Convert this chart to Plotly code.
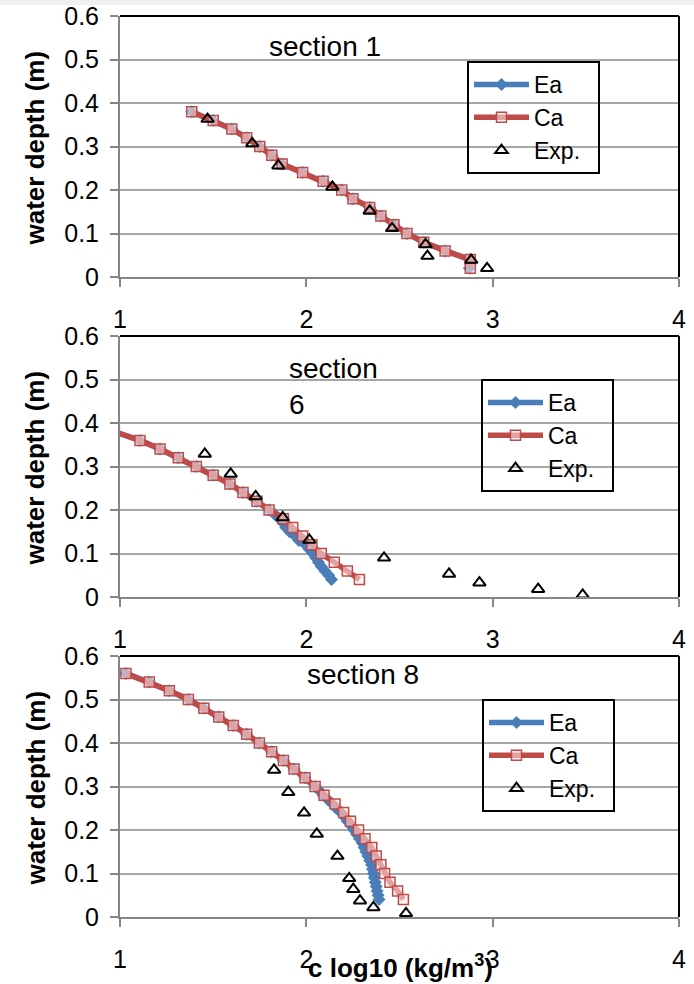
import plotly.graph_objects as go

# ---------------- data ----------------
tick_vals_x = [1, 2, 3, 4]
tick_text_x = ["1", "2", "3", "4"]

# section 1
s1_ca_x = [1.385, 1.50, 1.60, 1.68, 1.75, 1.815, 1.87, 1.98, 2.09, 2.19, 2.25, 2.34, 2.40, 2.47, 2.54, 2.63, 2.745, 2.88, 2.88]
s1_ca_y = [0.38, 0.36, 0.34, 0.32, 0.30, 0.28, 0.26, 0.24, 0.22, 0.20, 0.18, 0.16, 0.14, 0.12, 0.10, 0.08, 0.06, 0.04, 0.02]
s1_ea_x = [1.385, 1.50, 1.60, 1.68, 1.75, 1.815, 1.87, 1.98, 2.09, 2.19, 2.25, 2.34, 2.40, 2.47, 2.54, 2.63, 2.745, 2.875, 2.875]
s1_ea_y = [0.38, 0.36, 0.34, 0.32, 0.30, 0.28, 0.26, 0.24, 0.22, 0.20, 0.18, 0.16, 0.14, 0.12, 0.10, 0.08, 0.06, 0.04, 0.02]
s1_exp_x = [1.47, 1.71, 1.85, 2.14, 2.34, 2.46, 2.64, 2.65, 2.885, 2.97]
s1_exp_y = [0.363, 0.307, 0.256, 0.207, 0.152, 0.112, 0.075, 0.048, 0.039, 0.02]

# section 6
s6_ca_x = [0.97, 1.107, 1.215, 1.313, 1.41, 1.50, 1.59, 1.66, 1.735, 1.80, 1.877, 1.927, 1.98, 2.03, 2.08, 2.15, 2.22, 2.285]
s6_ca_y = [0.38, 0.36, 0.34, 0.32, 0.30, 0.28, 0.26, 0.24, 0.22, 0.20, 0.18, 0.16, 0.14, 0.12, 0.10, 0.08, 0.06, 0.04]
s6_ea_x = [0.97, 1.107, 1.215, 1.313, 1.41, 1.50, 1.59, 1.66, 1.735, 1.80, 1.83, 1.855, 1.875, 1.89, 1.91, 1.94,
           1.96, 1.995, 2.015, 2.035, 2.05, 2.065, 2.08, 2.10, 2.12, 2.135]
s6_ea_y = [0.38, 0.36, 0.34, 0.32, 0.30, 0.28, 0.26, 0.24, 0.22, 0.20, 0.19, 0.18, 0.17, 0.16, 0.15, 0.14,
           0.13, 0.12, 0.11, 0.10, 0.09, 0.08, 0.07, 0.06, 0.05, 0.04]
s6_exp_x = [1.455, 1.594, 1.728, 1.873, 2.016, 2.417, 2.766, 2.929, 3.244, 3.483]
s6_exp_y = [0.329, 0.283, 0.231, 0.183, 0.131, 0.09, 0.053, 0.033, 0.018, 0.005]

# section 8
s8_ca_x = [1.032, 1.157, 1.265, 1.367, 1.45, 1.53, 1.608, 1.68, 1.748, 1.814, 1.877, 1.934, 1.993, 2.047,
           2.095, 2.154, 2.20, 2.237, 2.28, 2.315, 2.351, 2.375, 2.40, 2.42, 2.449, 2.49, 2.521]
s8_ca_y = [0.56, 0.54, 0.52, 0.50, 0.48, 0.46, 0.44, 0.42, 0.40, 0.38, 0.36, 0.34, 0.32, 0.30,
           0.28, 0.26, 0.24, 0.22, 0.20, 0.18, 0.16, 0.14, 0.12, 0.10, 0.08, 0.06, 0.04]
s8_ea_x = [1.032, 1.157, 1.265, 1.367, 1.45, 1.53, 1.608, 1.68, 1.748, 1.814, 1.877, 1.934, 1.993, 2.047,
           2.07, 2.09, 2.115, 2.14, 2.16, 2.185, 2.205, 2.22, 2.24, 2.255, 2.27, 2.285, 2.30, 2.31, 2.32,
           2.33, 2.34, 2.35, 2.355, 2.36, 2.365, 2.37, 2.375, 2.38, 2.385, 2.39]
s8_ea_y = [0.56, 0.54, 0.52, 0.50, 0.48, 0.46, 0.44, 0.42, 0.40, 0.38, 0.36, 0.34, 0.32, 0.30,
           0.29, 0.28, 0.27, 0.26, 0.25, 0.24, 0.23, 0.22, 0.21, 0.20, 0.19, 0.18, 0.17, 0.16, 0.15,
           0.14, 0.13, 0.12, 0.11, 0.10, 0.09, 0.08, 0.07, 0.06, 0.05, 0.04]
s8_exp_x = [1.827, 1.903, 1.988, 2.056, 2.167, 2.23, 2.252, 2.288, 2.36, 2.535]
s8_exp_y = [0.338, 0.287, 0.2396, 0.191, 0.14, 0.089, 0.064, 0.0375, 0.022, 0.0085]

section_labels = ["section 1", "section<br>6", "section 8"]
series_names = ["Ea", "Ca", "Exp.\u00a0\u00a0"]

# ---------------- styling ----------------
W, H = 694, 984
FONT = "Liberation Sans, Arial, sans-serif"
BLUE = "#4A7EBB"
RED = "#BE4B48"
AXIS_GRAY = "#868686"
GRID_GRAY = "#A6A6A6"

def py(p):  # pixel y -> paper
    return 1 - p / H

def px(p):
    return p / W

x_dom = [px(120), px(679)]
panels = [  # (top px, bottom px)
    (16, 277),
    (336, 597),
    (656, 917),
]
legend_pos = [(467, 61), (481, 379), (482, 699)]
section_pos = [(325, 47, "center"), (287, 386, "left"), (363, 674, "center")]

data = [
    (s1_ea_x, s1_ea_y, s1_ca_x, s1_ca_y, s1_exp_x, s1_exp_y),
    (s6_ea_x, s6_ea_y, s6_ca_x, s6_ca_y, s6_exp_x, s6_exp_y),
    (s8_ea_x, s8_ea_y, s8_ca_x, s8_ca_y, s8_exp_x, s8_exp_y),
]

fig = go.Figure()
layout = dict(
    width=W, height=H,
    margin=dict(l=0, r=0, t=0, b=0),
    paper_bgcolor="white", plot_bgcolor="white",
    template="none",
    font=dict(family=FONT, size=25, color="black"),
    showlegend=True,
)
shapes = [dict(type="rect", xref="paper", yref="paper", x0=0, x1=1, y0=py(5), y1=1,
               fillcolor="#F0F0F0", line=dict(width=0), layer="below")]
annotations = []

for i, ((t, b), d) in enumerate(zip(panels, data)):
    n = "" if i == 0 else str(i + 1)
    xa, ya = "x" + n, "y" + n
    leg = "legend" + n
    ea_x, ea_y, ca_x, ca_y, ex_x, ex_y = d
    fig.add_trace(go.Scatter(
        x=ea_x, y=ea_y, name=series_names[0], mode="lines+markers", xaxis=xa, yaxis=ya, legend=leg,
        line=dict(color=BLUE, width=5.5),
        marker=dict(symbol="diamond", size=10, color=BLUE),
    ))
    fig.add_trace(go.Scatter(
        x=ca_x, y=ca_y, name=series_names[1], mode="lines+markers", xaxis=xa, yaxis=ya, legend=leg,
        line=dict(color=RED, width=5.5),
        marker=dict(symbol="square", size=10, color="rgba(255,235,235,0.55)",
                    line=dict(color=RED, width=1.5)),
    ))
    fig.add_trace(go.Scatter(
        x=ex_x, y=ex_y, name=series_names[2], mode="markers", xaxis=xa, yaxis=ya, legend=leg,
        marker=dict(symbol="triangle-up-open", size=11, color="black", line=dict(width=2)),
    ))

    layout["xaxis" + n] = dict(
        domain=x_dom, anchor=ya, range=[1, 4], tickvals=tick_vals_x, ticktext=tick_text_x,
        ticks="outside", ticklen=8, tickwidth=2, tickcolor=AXIS_GRAY,
        showline=True, linecolor=AXIS_GRAY, linewidth=2, showgrid=False, zeroline=False,
        tickfont=dict(family=FONT, size=25), ticklabelstandoff=11,
    )
    layout["yaxis" + n] = dict(
        domain=[py(b), py(t)], anchor=xa, range=[0, 0.6], tick0=0, dtick=0.1,
        ticks="outside", ticklen=8, tickwidth=2, tickcolor=AXIS_GRAY,
        showline=True, linecolor=AXIS_GRAY, linewidth=2,
        showgrid=True, gridcolor=GRID_GRAY, gridwidth=2, zeroline=False,
        tickfont=dict(family=FONT, size=25), ticklabelstandoff=6,
    )
    lx, ly = legend_pos[i]
    layout[leg] = dict(
        x=px(lx), y=py(ly), xanchor="left", yanchor="top", xref="paper", yref="paper",
        bgcolor="rgba(0,0,0,0)", bordercolor="black", borderwidth=2,
        font=dict(family=FONT, size=23), itemwidth=55, tracegroupgap=0,
    )
    # plot area border (top, right)
    shapes.append(dict(type="line", xref=xa + " domain", yref=ya + " domain", x0=0, x1=1, y0=1, y1=1,
                       line=dict(color="black", width=2)))
    shapes.append(dict(type="line", xref=xa + " domain", yref=ya + " domain", x0=1, x1=1, y0=0, y1=1,
                       line=dict(color="black", width=2)))
    # y title
    annotations.append(dict(text="<b>water depth (m)</b>", textangle=-90, xref="paper", yref="paper",
                            x=px(35), y=py((t + b) / 2 + 2), xanchor="center", yanchor="middle",
                            showarrow=False, font=dict(family=FONT, size=26)))
    sx, sy, al = section_pos[i]
    annotations.append(dict(text=section_labels[i], xref="paper", yref="paper",
                            x=px(sx), y=py(sy), xanchor=al, yanchor="middle", align="left",
                            showarrow=False, font=dict(family=FONT, size=28)))

annotations.append(dict(text="<b>c log10 (kg/m<sup>3</sup>)</b>", xref="paper", yref="paper",
                        x=px(400), y=py(966), xanchor="center", yanchor="middle",
                        showarrow=False, font=dict(family=FONT, size=26)))

layout["shapes"] = shapes
layout["annotations"] = annotations
fig.update_layout(**layout)
fig.write_html("out.html", config={"displayModeBar": False},
               post_script="document.body.style.margin='0px';document.body.style.overflow='hidden';")
